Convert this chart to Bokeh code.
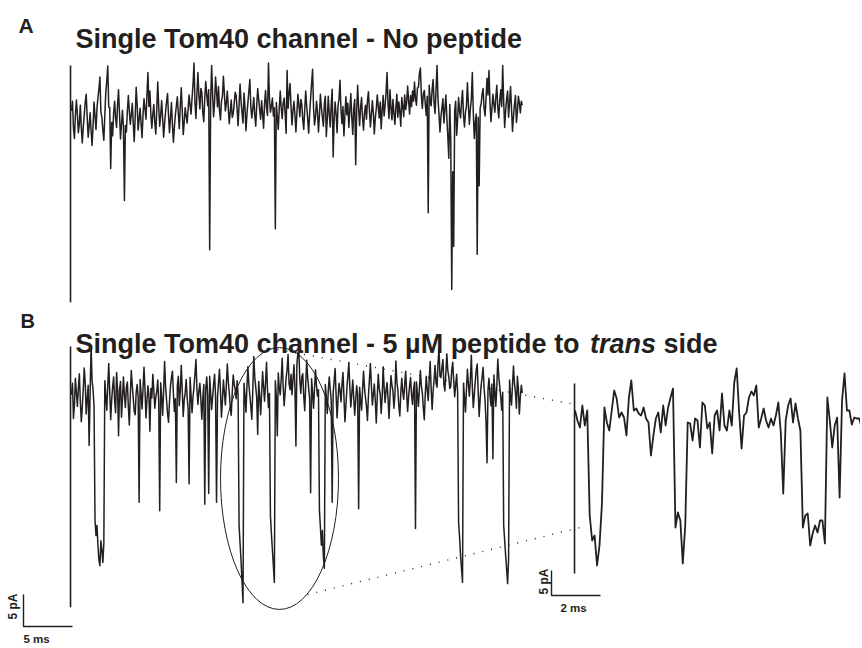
import numpy as np
from bokeh.plotting import figure
from bokeh.models import Range1d
from bokeh.embed import file_html
from bokeh.resources import INLINE
from bokeh.core.properties import value

# ---------------- data (pA, sampled traces) ----------------
DT_MAIN = 0.1    # ms per sample, panels A and B
DT_INSET = 0.1   # ms per sample, expanded view

trace_a = [
    1.5, 3.0, -1.2, -2.8, 0.9, 3.2, 1.0, -1.9, -0.5, 2.4, -1.1, -3.5, -1.0, 0.8, 2.9, 4.1, 0.6, -2.6, -0.9, 1.2,
    -1.6, -3.9, -0.8, 2.9, 0.7, -1.4, 1.9, 3.6, 4.9, 6.8, 1.4, 0.5, -1.5, -3.1, 0.8, 4.4, 6.2, 8.5, 2.1, 2.0,
    -7.5, -0.3, -2.4, 1.2, 3.0, 0.4, -1.1, 2.5, 4.8, 1.0, -2.9, -0.6, 1.6, -1.0, -12.5, -0.8, -1.8, 1.4, 3.9, 1.5,
    -0.6, 0.9, 2.7, -0.4, -3.3, 0.6, 5.2, 2.4, -1.5, 0.2, 1.9, -0.5, -2.7, 1.0, 3.4, 1.8, 0.2, 4.0, 7.5, 2.2,
    4.6, 0.9, -1.2, 1.0, 2.5, -0.3, -2.1, 1.7, 6.0, 2.2, -0.9, 0.8, 3.1, 0.4, -2.6, -0.5, 1.4, 2.9, 4.2, 0.8,
    -1.9, 0.5, 2.8, -0.7, -3.4, -1.0, 0.9, 2.3, 3.7, 1.1, -1.3, 2.2, 5.1, 1.6, -2.2, -0.3, 2.0, 0.7, -0.4, 1.9,
    4.0, 2.4,
    1.0, 3.5, 5.6, 9.0, 2.8, 0.3, 4.2, 7.5, 3.9, 1.8, 5.0, 4.4, 1.2, -0.2, 3.6, 6.1, 4.0, 2.3, 4.8, -20.2,
    3.1, 8.6, 4.1, 0.6, 2.9, 6.8, 4.5, 2.1, 5.3, 1.7, 0.1, 3.0, 3.8, 6.9, 4.2, 1.5, 2.7, 4.6, 1.9, -0.5,
    1.4, 3.2, 0.5, 1.0, 2.6, 4.4,
    3.9, 1.7, -0.8, 2.5, 5.7, 3.0, 1.2, -0.4, 4.3, 2.2, -1.6, 0.9, 2.8, 4.6, 6.4, 2.1, 0.4, 1.9, 3.6, 0.8,
    -0.9, 2.4, 5.0, 3.3, 1.7, 0.2, 3.1, 1.0, -1.2, 2.6, 4.7, 2.0, 0.8, 9.0, 3.4, 1.3, 2.2, 3.5, 0.7, 2.0,
    -16.9,
    2.8, 0.6, -1.4, 1.9, 4.6, 2.0, 0.3, 2.7, 3.5, 1.1, -2.0, 7.8, 1.9, 4.2, 5.8, 2.3, -0.7, 1.5, 3.0, 0.9,
    -1.8, 1.2, 4.1, 2.5, 0.6, 3.3,
    2.6, 0.1, -1.4, 1.8, 4.6, 2.2, 0.3, -2.0, 1.1, 3.5, 5.8, 8.0, 1.9, -0.7, 0.6, 3.0, 1.4, -1.8, 0.8, 4.1,
    2.0, 0.6, -0.9, 2.6, 3.8, -2.5, 0.2, 3.8, 1.1, -1.0, 2.4, 4.9,
    -5.7,
    0.2, 2.9, 1.0, -1.9, 2.4, 3.4, 6.3, 1.5, -0.5, 2.2, -2.4, 0.8, 3.7, 0.9, 2.7, -1.1, 1.5, 4.2, 0.5, -2.2,
    1.9, 3.3,
    -6.9,
    1.4, 5.5, 2.0, -0.8, 2.1, 3.6, 0.4, -1.5, 1.2, 2.4, 0.2, 3.1, 4.5, 1.6, -1.0, 0.9, 3.1, 1.2, -2.1, 0.4,
    1.8, 4.0, 2.2, 0.4, 2.9, -1.3, 1.5, 3.9, 0.7, 2.3, 4.4,
    7.5,
    2.6, 0.3, 4.8, 1.9, 0.1, 3.3, 1.2, -0.6, 2.0, 4.1, 0.5, 2.9, 1.4, -0.9, 3.6, 2.2, 0.6, 4.0, 1.7, 2.8,
    5.4, 3.1, 1.0, 3.9, 2.2, 4.6, 3.0,
    6.0, 3.4, 2.4, 5.1, 5.2, 7.3, 8.2, 3.9, 1.9, 4.2, 4.7, 2.6, 0.8, 3.8,
    -14.4,
    5.5, 3.1, 2.3, 4.9, 6.4, 2.7, 1.1, 5.0, 8.6,
    3.2, 1.0, -1.8, 0.6, 2.0, 3.4, -0.4, 1.7, 4.0, 0.5, -2.5,
    -5.9, 2.5, -3.0, -26.4, -8.0, -19.7,
    1.5, 3.0, -2.3, 0.2, 3.6, 1.4, 0.4, 2.9, 4.7, 0.8, -1.0, 1.3, 2.2, 5.9, 2.4, -0.6, 1.8, 3.3, 7.5, 1.2,
    -2.8, -0.3, 1.0,
    -20.9, 0.5, -10.2, 2.0,
    2.6, 4.1, 5.0, 1.9, 0.7, 3.5, 6.6, 4.0, 7.8, 2.9, -0.2, 1.8, 4.1, 2.6, 1.3, 3.7, 5.5, 2.0, 0.4, 3.1,
    4.8, 2.2, 8.6, 3.0, -1.1, 1.5, 3.4, 4.6, 0.5, 2.8, 5.3, 1.9, -1.7, 0.6, 2.5, 3.9, -0.3, 1.4, 3.8, 2.7,
    1.2, 3.0, 2.4,
]

trace_b = [
    1.2, 3.0, -2.5, -0.4, 3.8, 1.6, -0.6, 2.2, 4.5, 0.3, -3.0, -0.8, 2.1, 5.4, 3.0, -1.8, 0.6, 2.7,
    -6.7, 1.5, 8.9, 3.4, 2.0, -0.5,
    -18.4, -20.8, -19.2, -22.3, -24.7, -25.5, -21.6, -23.1, -25.0, -22.0,
    3.4, 1.0, -1.2, 2.6, 6.1, 1.8, -2.7, 0.4, 2.5, 4.0, 0.3, -1.6, 4.7, 2.1,
    -5.2,
    1.9, 3.3, -2.3, 0.5, 4.0, 1.2, -0.8, 2.4, 3.2, -0.6, -3.5, 1.1, 5.0, 2.7, 0.6, -1.4, -1.9, 1.6, 2.8, 0.9,
    -15.6,
    3.6, 1.4, -1.0, 2.2, 5.5, 2.0, -2.4, 0.3, 2.6, 1.0,
    -4.5,
    2.2, 0.7, 4.4, 1.9, -0.9, 0.8, 1.7, 3.5, 0.2,
    -16.9,
    3.1, 0.9, -2.0, 1.8, 6.4, 2.5, 0.4, -1.7, -3.1, 0.2, 2.6, 3.9, 4.9, 1.3, -1.4, 0.6,
    -12.5,
    2.7, 4.1, -0.5, 1.9, 5.8, 2.0, -2.2, 0.4, 1.5, 3.6, 0.8, -0.9,
    -12.7,
    3.9, 1.2, -1.6, 0.9, 2.4, 4.5, 6.7, 2.1, -0.3, 1.8, 3.0, 0.5, -2.6, 0.7, 2.8,
    -15.9, 2.2, 4.0, 1.1, -14.2,
    4.1, 1.5, -1.1, 0.8, 2.9, 4.4, 1.0,
    -15.6,
    0.8, 3.1, 5.2, 1.9, -2.3, 0.2, 3.5, 1.6, -0.4, 2.7, 6.0, 3.2, 1.6, -0.7, -2.0, 1.5, 4.3, 2.9, 2.1, 0.6,
    3.4, 1.2,
    -19.2, -22.0, -24.7, -28.0, -31.3,
    3.0, 1.1, -1.5, 2.4, 5.6, 2.8, 1.1, -0.6, -2.6, 1.9, 7.2, 4.0, 2.4, 0.8,
    -5.0,
    3.3, 1.0, -1.9, 1.5, 4.8, 2.4, 0.2, 3.1, 6.3, 2.0, -0.8, 1.4,
    -17.7, -20.5, -23.0, -25.5, -28.1,
    3.4, 1.0, -5.2,
    4.6, 2.3, 1.2, 3.7, 6.9, 2.5, -0.5, 1.6, 3.8, 5.2, 7.5, 3.0, 2.0, 4.4, 1.2, 3.6, 5.9, 2.4,
    -6.8,
    5.9, 7.8, 8.0, 3.5, 1.4, 4.0, 4.5, 0.9, -1.3, 2.8, 6.6, 3.9, 2.2, 0.6,
    -14.1,
    3.7, 1.5, -0.9, 2.3, 5.1, 2.6, 1.0, 2.0,
    -16.9, -19.5, -22.3, -20.0, -24.0, -25.9,
    2.8, 0.9, -1.7, 1.8, 4.0, 2.1, 0.4,
    -15.6,
    1.5, 3.4, 5.3, 1.2, -2.4, 0.6, 3.0, 1.9, 0.1, 2.8, 4.7, 1.0, -3.0, -0.5, 2.2, 4.1, 6.2, 2.5, -0.7, 1.3,
    3.5, 0.8, -2.0, 0.4, 2.6, 1.2,
    -16.6,
    2.4, 0.4, -1.2, 1.9, 4.9, 2.3, 0.7, -0.6, -2.8, 1.0, 3.6, 6.1, 2.7, -0.4, 1.2, 2.9, 0.3, -3.2, 0.9, 4.4,
    2.2, 1.3, -1.7, 0.8, 5.6, 2.4, 0.0, 1.9, 3.1, 0.6, -2.5, 1.0, 4.2, 2.7, 1.8, -0.9, 1.1, 6.5, 3.3, 2.0,
    -0.5, -2.1, 1.4, 3.8, 1.7, 0.5, 2.8, 4.9, 1.6, -1.4, 0.9, 2.6, 3.9, 1.2, -0.3, 2.0, 3.2,
    -19.7,
    3.2, 1.4, -0.6, 2.2, 5.0, 2.6, 1.5, -0.8, -2.7, 1.3, 4.1, 2.0, 0.3, 3.5, 6.4, 2.1, -1.1, 1.8, 3.6,
    5.8, 3.0, 2.4, 6.2, 8.4, 4.1, 3.9, 5.5, 6.7, 2.8, 1.8, 4.6, 7.6, 5.0, 4.0, 2.2, 2.5, 5.1, 6.3, 3.4,
    0.9, 2.7, 4.4, 1.6,
    -18.8, -21.0, -23.9, -26.0, -28.1,
    3.0, 0.8, -1.5, 2.0, 5.2, 2.9, 1.0, 3.6, 7.4, 2.4, -0.8, 1.2, 3.3, 5.1, 6.0, 1.7, -2.2, 0.6, 2.7, 4.0,
    5.5, 2.3, 0.4, -3.0,
    -9.4,
    2.0, 3.8, 1.2, -0.5, 2.9,
    -8.8,
    4.3, 1.9, -0.6, 2.5, 6.8, 4.0, 2.5, 0.9, -1.2, 1.6,
    -19.2, -21.5, -23.9, -26.0, -28.3, -24.5,
    3.5, 1.0, -0.4, 2.8, 5.7, 3.0, 1.6, -0.9, 4.1, 2.2, -1.8, 0.9, 2.7, 1.5,
]

trace_inset = [
    2.0, 0.0, -1.4, 3.0, -1.0, 2.0,
    -19.0, -24.0, -23.0, -29.0, -25.0, -16.6,
    2.6, -0.4, -2.0, 2.0, 6.0, 4.4, 0.6, 1.6, 0.6, -3.0, 4.6, 8.0, 2.0, 2.4, 1.4,
    1.0, 2.6, 0.4, -0.4, -7.0, -3.0, 0.4, 1.6, -2.4, 3.0, -1.0, 2.6, 4.6, 6.4,
    -21.4, -18.4, -20.0, -28.6, -21.0,
    -0.4, -0.6, -4.0, 0.4, 0.0, -5.4, 3.6, 3.0, -1.6,
    -0.4, -6.6, 1.0, 2.0, -2.0, 5.4, -1.0, -2.0, 2.0, -1.0, 7.6, 10.4, 1.6, -5.6, 1.0, 1.6, 4.6, 5.8,
    5.0, 7.0, -1.4, 0.4, 2.4, 0.0, -1.4, 0.4, -1.0, 1.0, 3.6, -2.4, -14.6, 0.0, 3.0, 4.4, -0.4, 3.4, 0.4, -2.0,
    -21.4, -19.0, -18.6, -25.0, -22.6, -21.0, -22.4, -20.0, -20.0, -24.6,
    4.6, 0.0, -5.4, -1.0, 0.6, -15.4, 4.0, 9.4, 2.0, 2.0, -0.8, 0.6, 0.4, 0.4, -1.4,
]

# vertical marker at the start of each record (pA span) and its time (ms)
marker_a = [8.6, -28.4]
marker_b = [8.75, -32.0]
marker_inset = [7.4, -30.6]
marker_t_main = -0.1
marker_t_inset = -0.02

# scale bars (ms, pA)
scale_main = (5, 5)
scale_inset = (2, 5)
scale_main_labels = ("5 ms", "5 pA")
scale_inset_labels = ("2 ms", "5 pA")

panel_letters = ["A", "B"]
title_a = "Single Tom40 channel - No peptide"
title_b_parts = ["Single Tom40 channel - 5 \u00b5M peptide to ", "trans", " side"]

# ---------------- layout (page pixels) ----------------
FIG_W, FIG_H = 860, 646
X_LO, X_HI = 0, FIG_W
Y_TOP, Y_BOT = 0, FIG_H

PANELS = {
    "a": dict(x0=71.0, sx=9.8, y0=120.0, sy=6.4),
    "b": dict(x0=71.0, sx=9.8, y0=402.0, sy=6.4),
    "i": dict(x0=574.5, sx=24.5, y0=420.0, sy=5.0),
}


def time_range(x0, sx):
    return Range1d((X_LO - x0) / sx, (X_HI - x0) / sx)


def current_range(y0, sy):
    return Range1d((y0 - Y_BOT) / sy, (y0 - Y_TOP) / sy)


p = figure(width=FIG_W, height=FIG_H,
           x_range=Range1d(X_LO, X_HI), y_range=Range1d(Y_BOT, Y_TOP),
           toolbar_location=None, output_backend="svg", min_border=0,
           x_axis_location=None, y_axis_location=None,
           outline_line_color=None, background_fill_color="white",
           border_fill_color="white")
p.grid.grid_line_color = None

p.extra_x_ranges = {f"t_{k}": time_range(v["x0"], v["sx"]) for k, v in PANELS.items()}
p.extra_y_ranges = {f"i_{k}": current_range(v["y0"], v["sy"]) for k, v in PANELS.items()}

INK = "#231f20"
FONT = value("Liberation Sans")


def to_panel(key, px, py):
    v = PANELS[key]
    return (px - v["x0"]) / v["sx"], (v["y0"] - py) / v["sy"]


# traces
for key, trace, dt, marker, mt, lw in [
    ("a", trace_a, DT_MAIN, marker_a, marker_t_main, 1.5),
    ("b", trace_b, DT_MAIN, marker_b, marker_t_main, 1.5),
    ("i", trace_inset, DT_INSET, marker_inset, marker_t_inset, 1.8),
]:
    t = np.arange(len(trace)) * dt
    p.line(t, trace, x_range_name=f"t_{key}", y_range_name=f"i_{key}",
           line_color=INK, line_width=lw, line_join="round")
    p.line([mt, mt], marker, x_range_name=f"t_{key}", y_range_name=f"i_{key}",
           line_color=INK, line_width=1.6)

# scale bars
for key, (ms, pa), corner_px in [("b", scale_main, (23, 626)), ("i", scale_inset, (551, 595))]:
    ct, ci = to_panel(key, *corner_px)
    p.line([ct, ct, ct + ms], [ci + pa, ci, ci], x_range_name=f"t_{key}", y_range_name=f"i_{key}",
           line_color=INK, line_width=1.4)

# scale bar labels
p.text(x=[23, 560], y=[638.5, 607.5], text=[scale_main_labels[0], scale_inset_labels[0]],
       text_font=FONT, text_font_style="bold", text_font_size="11.5px",
       text_color=INK, text_baseline="alphabetic", text_align="left")
p.text(x=[12, 543], y=[606, 581], text=[scale_main_labels[1], scale_inset_labels[1]],
       angle=np.pi / 2, text_font=FONT, text_font_style="bold", text_font_size="12px",
       text_color=INK, text_baseline="middle", text_align="center")

# ellipse and dotted zoom lines
p.ellipse(x=[279], y=[478], width=118, height=262, fill_color=None,
          line_color=INK, line_width=1.0)
p.line([277, 570], [349, 403], line_color=INK, line_width=1.4, line_dash="1 8")
p.line([307, 580], [594, 527], line_color=INK, line_width=1.4, line_dash="1 8")

# panel letters
p.text(x=[18], y=[25], text=[panel_letters[0]], text_font=FONT, text_font_style="bold",
       text_font_size="21px", text_color=INK, text_baseline="alphabetic")
p.text(x=[20], y=[320], text=[panel_letters[1]], text_font=FONT, text_font_style="bold",
       text_font_size="20px", text_color=INK, text_baseline="alphabetic")

# titles
p.text(x=[75], y=[38], text=[title_a], text_font=FONT, text_font_style="bold",
       text_font_size="27px", text_color=INK, text_baseline="alphabetic")
p.text(x=[75, 663.1], y=[343, 343], text=[title_b_parts[0], title_b_parts[2].strip()],
       text_font=FONT, text_font_style="bold", text_font_size="27px", text_color=INK,
       text_baseline="alphabetic")
p.text(x=[589.6], y=[343], text=[title_b_parts[1]], text_font=FONT,
       text_font_style="bold italic", text_font_size="27px", text_color=INK,
       text_baseline="alphabetic")

open("out.html", "w").write(file_html(p, INLINE))
